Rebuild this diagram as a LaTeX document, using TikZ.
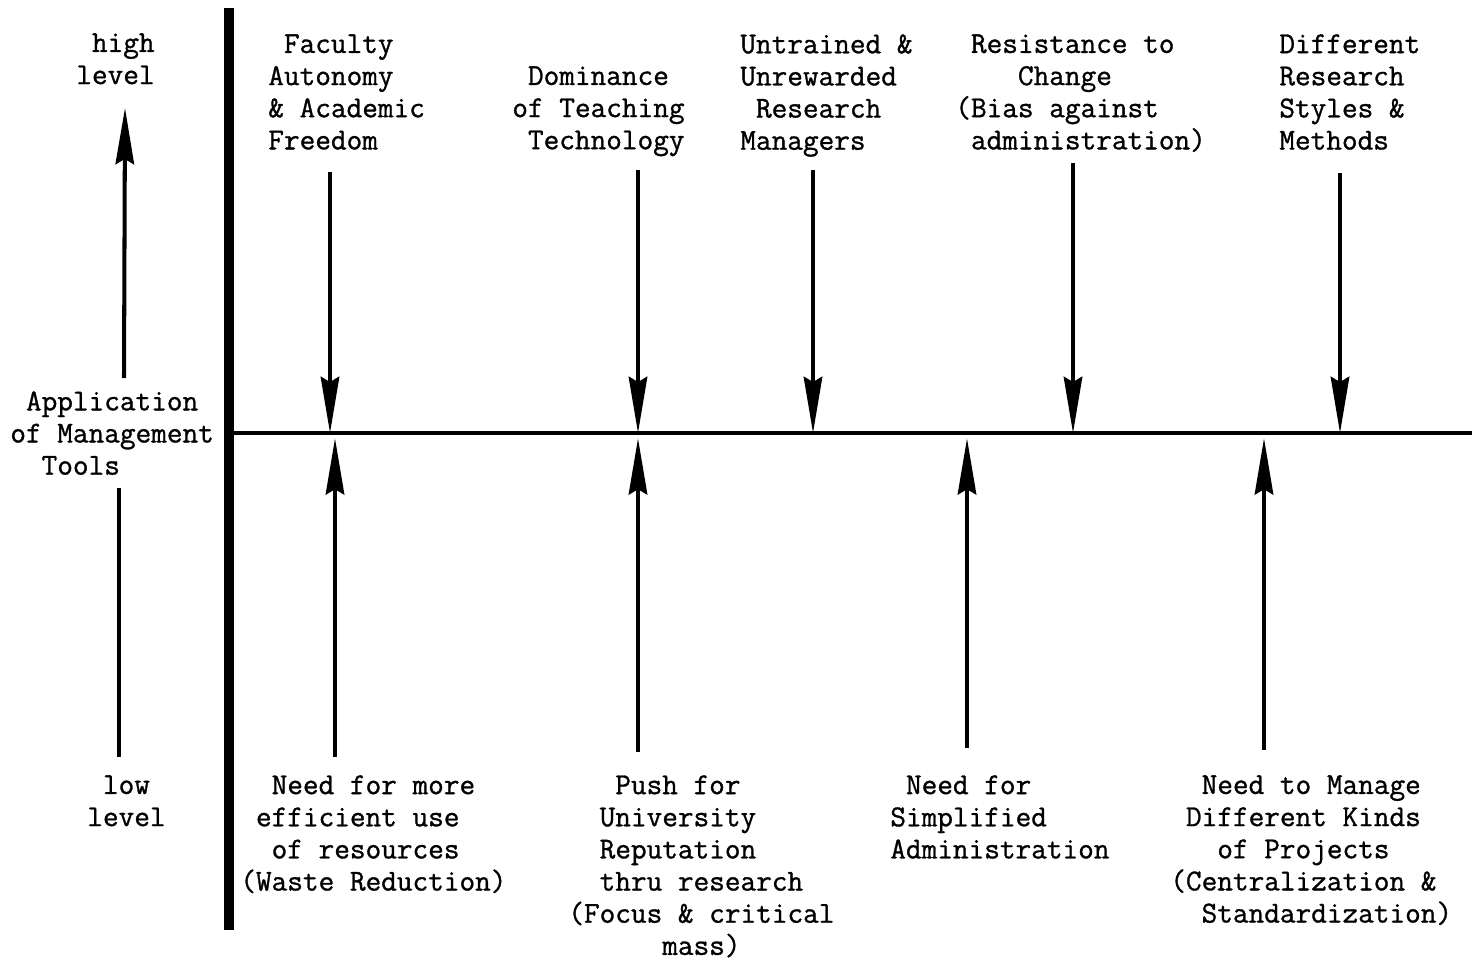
\documentclass[tikz,border=0pt]{standalone}
\usepackage{fontspec}
\newfontfamily\typewriter[FakeBold=1]{Latin Modern Mono}
\usetikzlibrary{arrows.meta}

\begin{document}
\begin{tikzpicture}[x=0.02cm, y=-0.02cm,
	every node/.style={inner sep=0pt, anchor=north west, align=left, font=\typewriter\fontsize{17.3}{18.3}\selectfont},
	force/.style={line width=2.3pt, -{Stealth[length=32pt, width=10.5pt, inset=3pt]}},
	plain/.style={line width=2.3pt}]
	\useasboundingbox (0,0) rectangle (1477,963);
	\node (High Level) at (76,33) {~high\\level};
	\node (Application of Management Tools) at (10,391) {~Application\\of Management\\~~Tools};
	\node (Low Level) at (87,775) {~low\\level};
	\node (Faculty Autonomy) at (268,34) {~Faculty\\Autonomy\\\& Academic\\Freedom};
	\node (Dominance of Teaching) at (512,66) {~Dominance\\of Teaching\\~Technology};
	\node (Untrained Managers) at (740,34) {Untrained \&\\Unrewarded\\~Research\\Managers};
	\node (Resistance to Change) at (955,34) {~Resistance to\\~~~~Change\\(Bias against\\~administration)};
	\node (Different Research Styles) at (1279,34) {Different\\Research\\Styles \&\\Methods};
	\node (Efficient Use) at (240,775) {~~Need for more\\~efficient use\\~~of resources\\(Waste Reduction)};
	\node (University Reputation) at (568,775) {~~~Push for\\~~University\\~~Reputation\\~~thru research\\(Focus \& critical\\~~~~~~mass)};
	\node (Simplified Administration) at (890,775) {~Need for\\Simplified\\Administration};
	\node (Different Kinds of Projects) at (1170,775) {~~Need to Manage\\~Different Kinds\\~~~of Projects\\(Centralization \&\\~~Standardization)};
	\coordinate (Bar Top) at (229,8);
	\coordinate (Bar Bottom) at (229,930);
	\coordinate (Base West) at (229,433);
	\coordinate (Base East) at (1472,433);
	\coordinate (Axis Top) at (125,108);
	\coordinate (Axis Mid) at (124,378);
	\coordinate (Axis Low) at (119,488);
	\coordinate (Axis Bottom) at (119,757);
	\coordinate (Restrain 1) at (330,172);
	\coordinate (Restrain 2) at (638,170);
	\coordinate (Restrain 3) at (813,170);
	\coordinate (Restrain 4) at (1073,163);
	\coordinate (Restrain 5) at (1340,173);
	\coordinate (Drive 1) at (335,757);
	\coordinate (Drive 2) at (638,752);
	\coordinate (Drive 3) at (967,748);
	\coordinate (Drive 4) at (1264,750);
	\draw[line width=6.2pt] (Bar Top) -- (Bar Bottom);
	\draw[line width=2.8pt] (Base West) -- (Base East);
	\draw[force] (Axis Mid) -- (Axis Top);
	\draw[plain] (Axis Low) -- (Axis Bottom);
	\draw[force] (Restrain 1) -- (Restrain 1 |- Base West);
	\draw[force] (Restrain 2) -- (Restrain 2 |- Base West);
	\draw[force] (Restrain 3) -- (Restrain 3 |- Base West);
	\draw[force] (Restrain 4) -- (Restrain 4 |- Base West);
	\draw[force] (Restrain 5) -- (Restrain 5 |- Base West);
	\draw[force, shorten >=3pt] (Drive 1) -- (Drive 1 |- Base West);
	\draw[force, shorten >=3pt] (Drive 2) -- (Drive 2 |- Base West);
	\draw[force, shorten >=3pt] (Drive 3) -- (Drive 3 |- Base West);
	\draw[force, shorten >=3pt] (Drive 4) -- (Drive 4 |- Base West);
\end{tikzpicture}
\end{document}
